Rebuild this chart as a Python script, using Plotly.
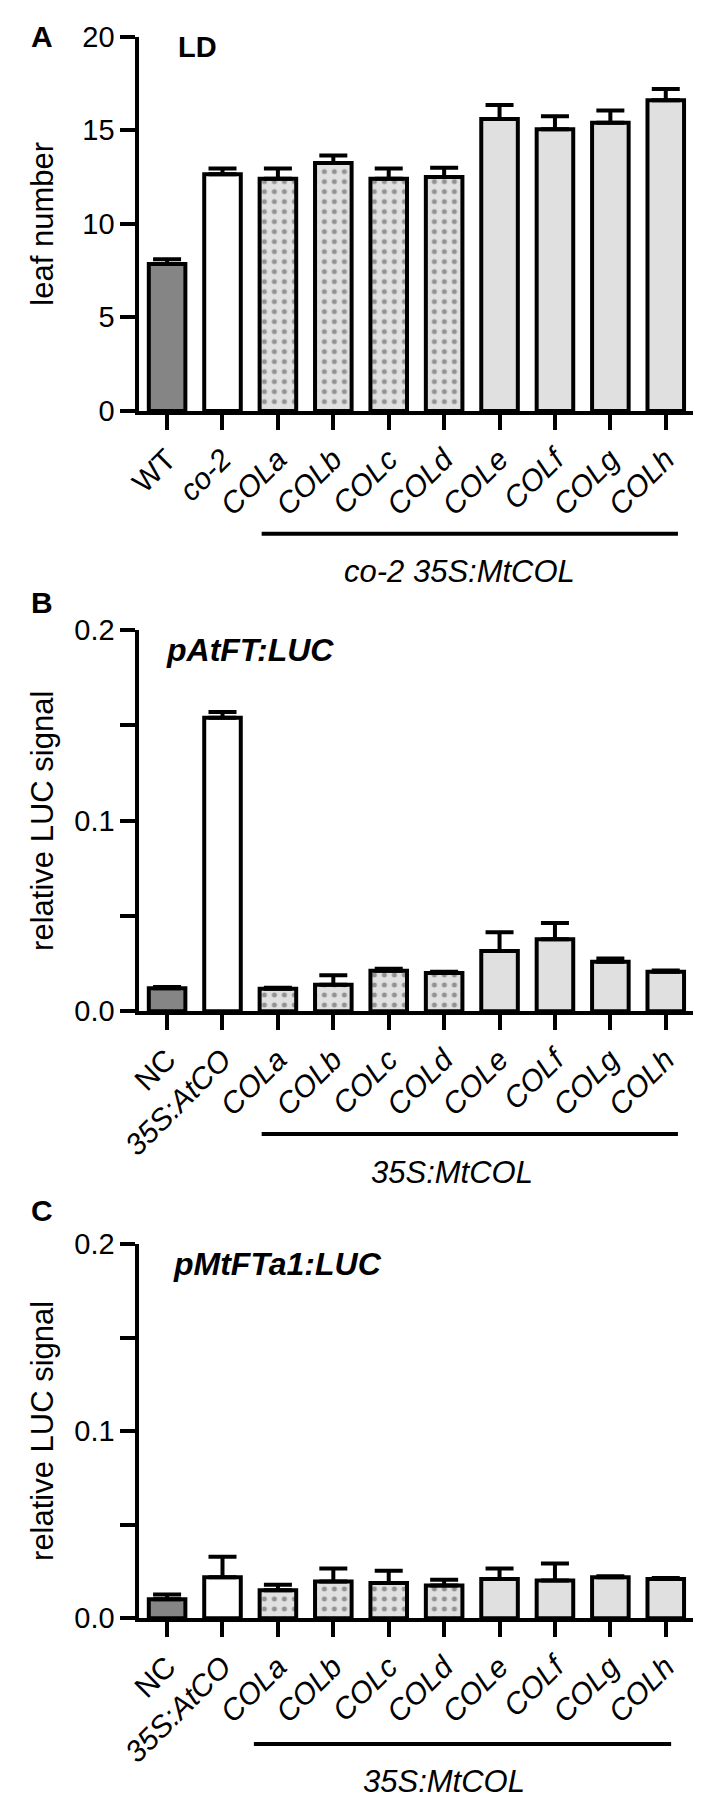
import plotly.graph_objects as go

W, H = 709, 1814

# panel A: flowering time (leaf number) under LD
cats_a = ["WT", "co-2", "COLa", "COLb", "COLc", "COLd", "COLe", "COLf", "COLg", "COLh"]
labels_a = ["WT", "<i>co-2</i>", "<i>COLa</i>", "<i>COLb</i>", "<i>COLc</i>", "<i>COLd</i>",
            "<i>COLe</i>", "<i>COLf</i>", "<i>COLg</i>", "<i>COLh</i>"]
leaf_mean = [7.85, 12.65, 12.4, 13.25, 12.4, 12.5, 15.6, 15.05, 15.4, 16.6]
leaf_err = [0.25, 0.3, 0.55, 0.4, 0.55, 0.5, 0.75, 0.7, 0.65, 0.6]

# panels B and C: relative LUC signal
cats_bc = ["NC", "35S:AtCO", "COLa", "COLb", "COLc", "COLd", "COLe", "COLf", "COLg", "COLh"]
labels_bc = ["NC", "<i>35S:AtCO</i>", "<i>COLa</i>", "<i>COLb</i>", "<i>COLc</i>", "<i>COLd</i>",
             "<i>COLe</i>", "<i>COLf</i>", "<i>COLg</i>", "<i>COLh</i>"]
ft_mean = [0.012, 0.154, 0.0117, 0.0138, 0.0212, 0.020, 0.0316, 0.0377, 0.0259, 0.0207]
ft_err = [0.0006, 0.003, 0.0005, 0.005, 0.001, 0.0006, 0.0098, 0.0086, 0.0017, 0.0006]
fta1_mean = [0.0102, 0.0219, 0.0149, 0.0196, 0.0188, 0.0175, 0.021, 0.0202, 0.0219, 0.021]
fta1_err = [0.0025, 0.011, 0.003, 0.007, 0.0066, 0.003, 0.0056, 0.009, 0.0005, 0.0005]

bar_colors = ["#858585", "#ffffff"] + ["#e0e0e0"] * 4 + ["#e0e0e0"] * 4
bar_shapes = ["", ""] + ["."] * 4 + [""] * 4

FONT = "Arial, Liberation Sans, sans-serif"


def px_x(x):
    return x / W


def px_y(y):
    return 1 - y / H


def bars(cats, mean, err, ax):
    return go.Bar(
        x=cats, y=mean,
        xaxis="x" + ax, yaxis="y" + ax,
        marker=dict(
            color=bar_colors,
            line=dict(color="black", width=4),
            pattern=dict(shape=bar_shapes, fgcolor="black", fillmode="overlay",
                         size=10, solidity=0.2),
        ),
        error_y=dict(type="data", array=err, arrayminus=[0] * len(err), symmetric=False,
                     color="black", thickness=4, width=14),
        showlegend=False,
    )


fig = go.Figure()
fig.add_trace(bars(cats_a, leaf_mean, leaf_err, ""))
fig.add_trace(bars(cats_bc, ft_mean, ft_err, "2"))
fig.add_trace(bars(cats_bc, fta1_mean, fta1_err, "3"))

xdom = [px_x(122), px_x(693)]
panels = [  # (suffix, top px, bottom px, cats, labels, y range, tickvals, ticktext)
    ("", 21, 402, cats_a, labels_a, [0, 20], [0, 5, 10, 15, 20], ["0", "5", "10", "15", "20"]),
    ("2", 625, 1013, cats_bc, labels_bc, [0, 0.2], [0, 0.05, 0.1, 0.15, 0.2], ["0.0", "", "0.1", "", "0.2"]),
    ("3", 1250, 1631, cats_bc, labels_bc, [0, 0.2], [0, 0.05, 0.1, 0.15, 0.2], ["0.0", "", "0.1", "", "0.2"]),
]

axis_style = dict(showline=True, linewidth=4, linecolor="black", ticks="outside",
                  ticklen=15, tickwidth=4, tickcolor="black", showgrid=False, zeroline=False)
layout = {}
for suf, top, bot, cats, labels, yr, tv, tt in panels:
    layout["xaxis" + suf] = dict(domain=xdom, anchor="y" + suf, range=[-0.5, 9.5],
                                 tickvals=cats, ticktext=labels, tickangle=-45,
                                 tickfont=dict(family=FONT, size=30, color="black"), **axis_style)
    layout["yaxis" + suf] = dict(domain=[px_y(bot), px_y(top)], anchor="x" + suf, range=yr,
                                 tickvals=tv, ticktext=tt,
                                 tickfont=dict(family=FONT, size=29, color="black"), **axis_style)

annotations = []


def text(x, y, s, size, xanchor="center", angle=0):
    annotations.append(dict(x=px_x(x), y=px_y(y), xref="paper", yref="paper", text=s,
                            showarrow=False, xanchor=xanchor, yanchor="middle", textangle=angle,
                            font=dict(family=FONT, size=size, color="black")))


text(22, 21, "<b>A</b>", 30)
text(22, 597, "<b>B</b>", 30)
text(22, 1216, "<b>C</b>", 30)
text(160, 32, "<b>LD</b>", 29, xanchor="left")
text(147, 645, "<b><i>pAtFT:LUC</i></b>", 32, xanchor="left")
text(155, 1270, "<b><i>pMtFTa1:LUC</i></b>", 32, xanchor="left")
text(22, 211, "leaf number", 31, angle=-90)
text(22, 819, "relative LUC signal", 31, angle=-90)
text(22, 1440, "relative LUC signal", 31, angle=-90)
text(452, 565, "<i>co-2 35S:MtCOL</i>", 31)
text(444, 1177, "<i>35S:MtCOL</i>", 31)
text(436, 1797, "<i>35S:MtCOL</i>", 31)

shapes = []
for x0, x1, y in [(248, 677, 527), (248, 677, 1138), (240, 670, 1759)]:
    shapes.append(dict(type="line", xref="paper", yref="paper", x0=px_x(x0), x1=px_x(x1),
                       y0=px_y(y), y1=px_y(y), line=dict(color="black", width=4)))

fig.update_layout(
    width=W, height=H, margin=dict(l=0, r=0, t=0, b=0),
    paper_bgcolor="white", plot_bgcolor="white", bargap=0.34,
    annotations=annotations, shapes=shapes, **layout,
)

fig.write_html("out.html", config={"displayModeBar": False},
               post_script="document.body.style.margin='0';")
